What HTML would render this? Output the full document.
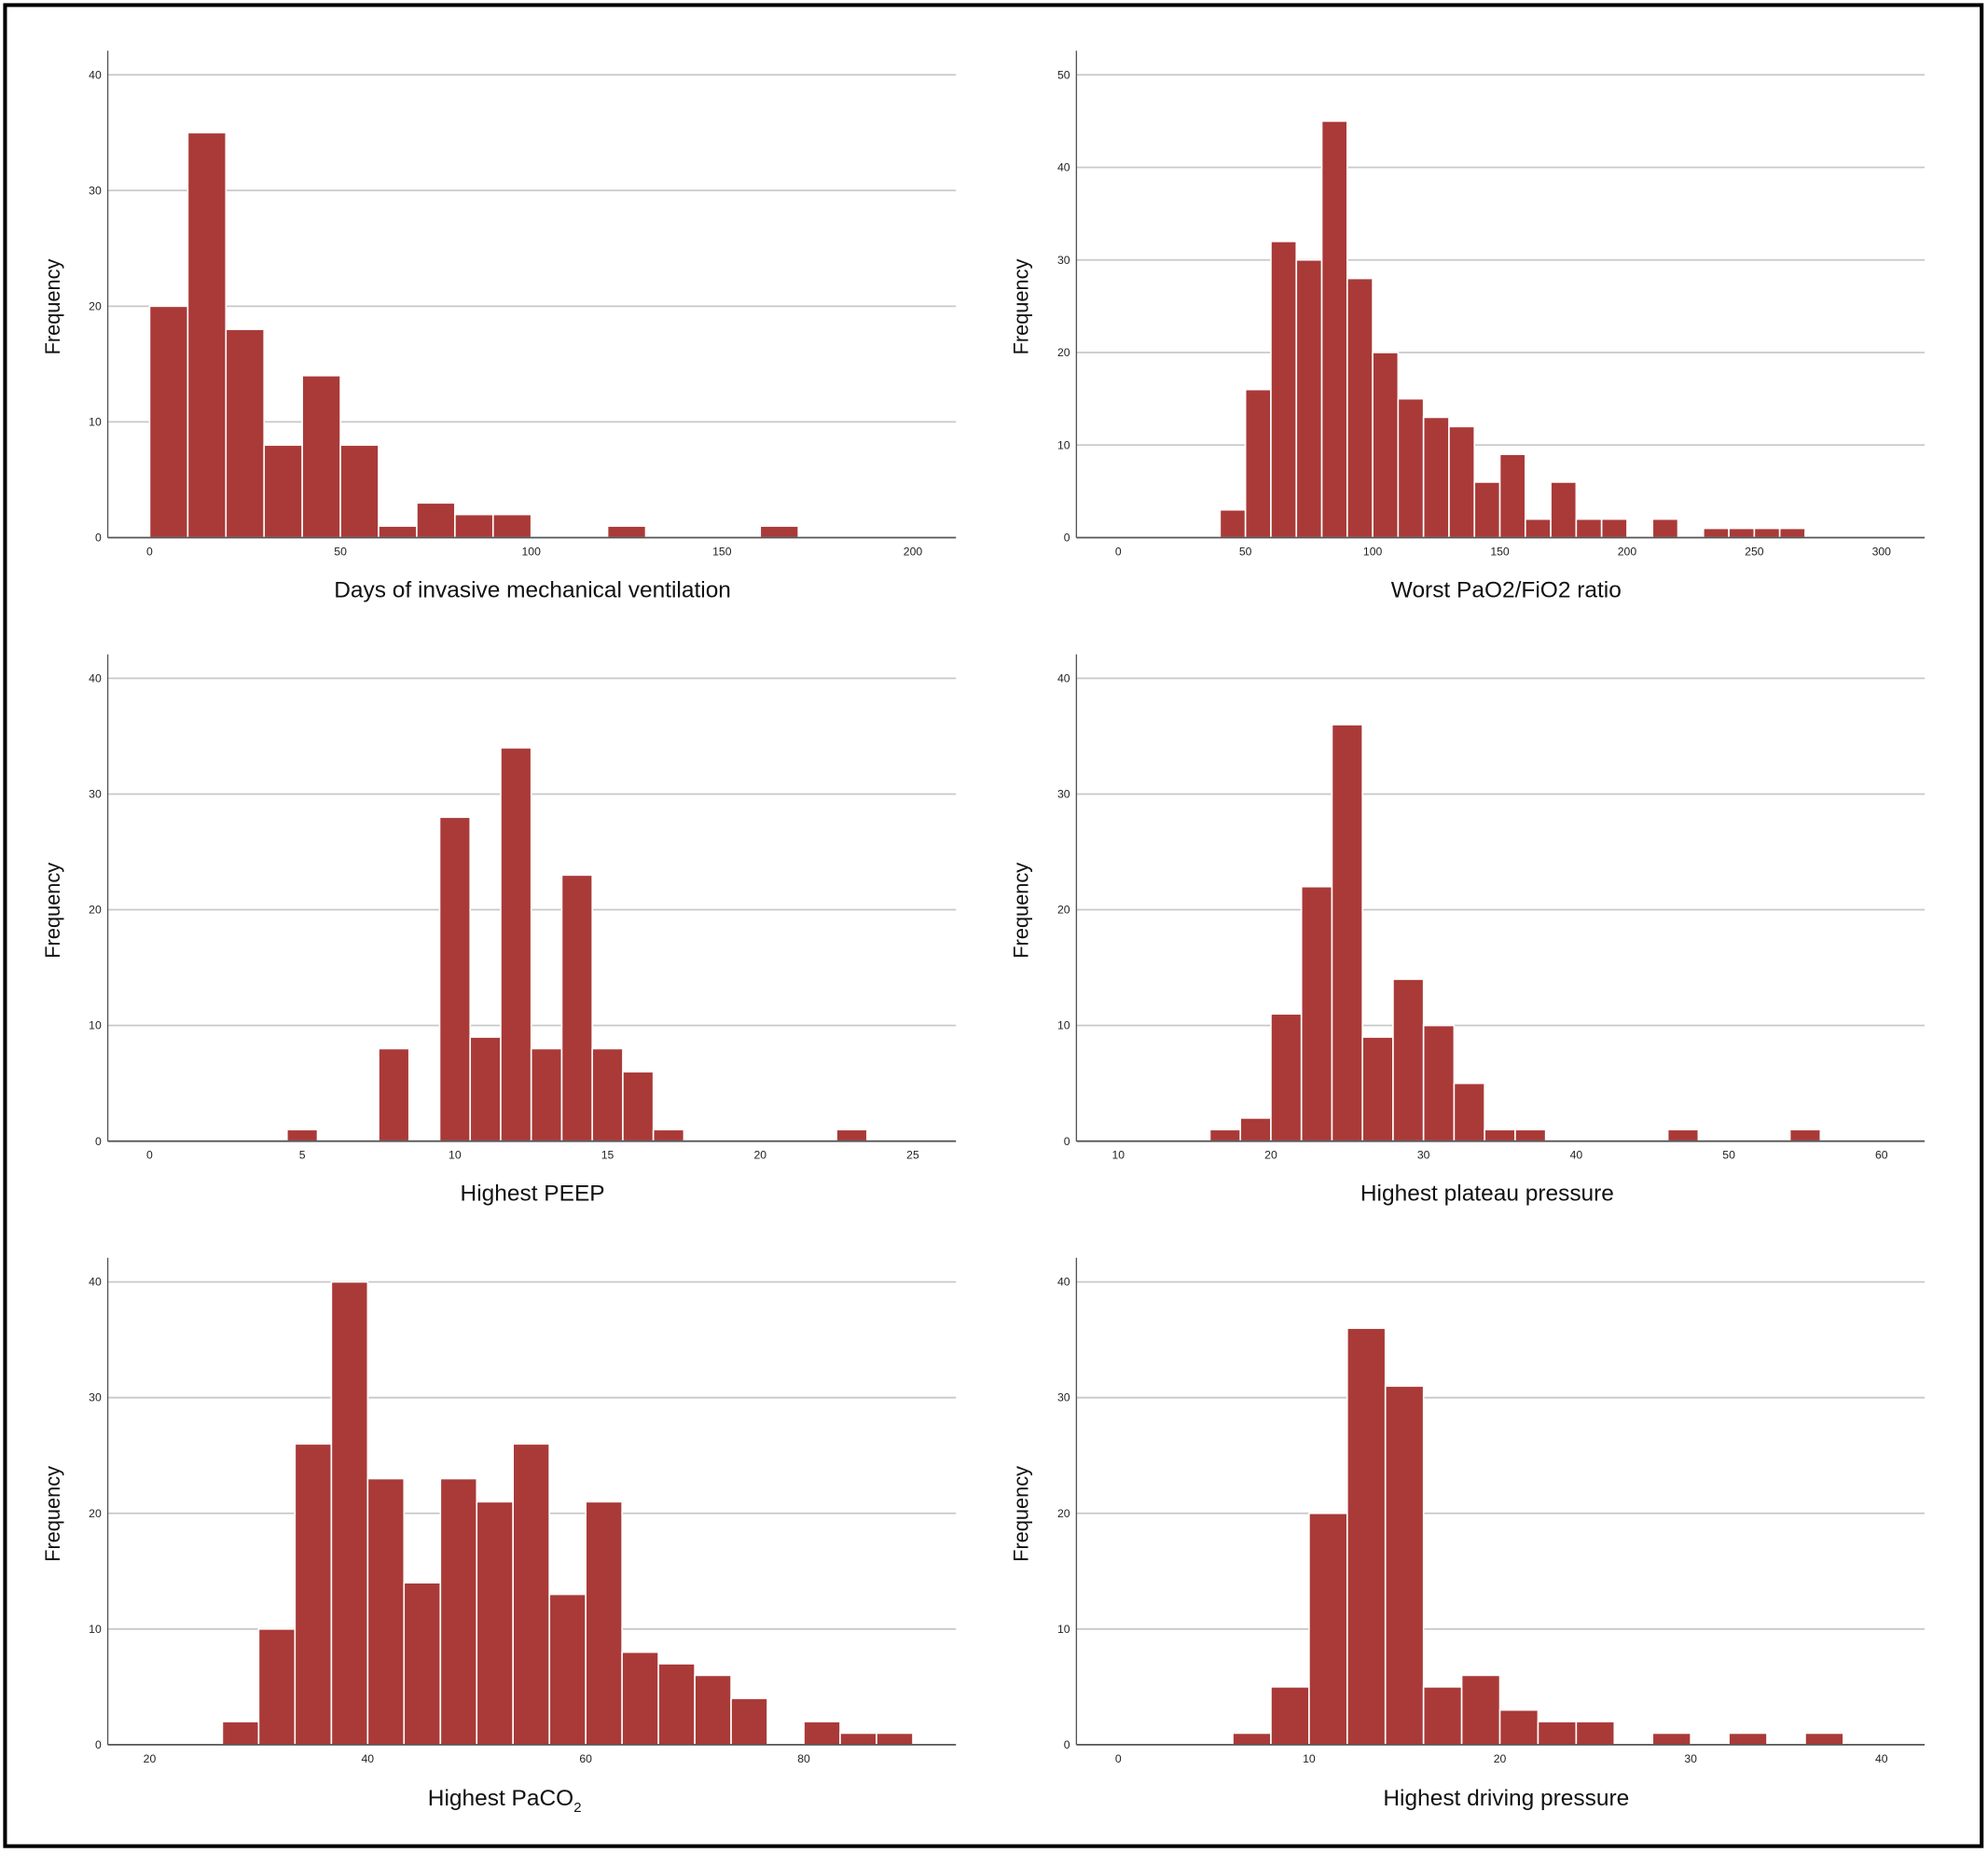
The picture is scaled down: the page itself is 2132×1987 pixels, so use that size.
<!DOCTYPE html>
<html><head><meta charset="utf-8">
<style>html,body{margin:0;padding:0;background:#fff}svg{display:block}</style>
</head><body>
<svg id="chart" width="2132" height="1987" viewBox="0 0 1568 1461.4" preserveAspectRatio="none" xmlns="http://www.w3.org/2000/svg">
<rect x="4" y="4" width="1559" height="1452" fill="#fff" stroke="#000" stroke-width="3"/>
</svg>
<script>
// Days of invasive mechanical ventilation
const daysBinStarts = [0,10,20,30,40,50,60,70,80,90,120,160];
const daysCounts = [20,35,18,8,14,8,1,3,2,2,1,1];
// Worst PaO2/FiO2 ratio
const pfBinStarts = [40,50,60,70,80,90,100,110,120,130,140,150,160,170,180,190,210,230,240,250,260];
const pfCounts = [3,16,32,30,45,28,20,15,13,12,6,9,2,6,2,2,2,1,1,1,1];
// Highest PEEP
const peepBinStarts = [4.5,7.5,9.5,10.5,11.5,12.5,13.5,14.5,15.5,16.5,22.5];
const peepCounts = [1,8,28,9,34,8,23,8,6,1,1];
// Highest plateau pressure
const platBinStarts = [16,18,20,22,24,26,28,30,32,34,36,46,54];
const platCounts = [1,2,11,22,36,9,14,10,5,1,1,1,1];
// Highest PaCO2
const pacoBinStarts = [26.67,30,33.33,36.67,40,43.33,46.67,50,53.33,56.67,60,63.33,66.67,70,73.33,80,83.33,86.67];
const pacoCounts = [2,10,26,40,23,14,23,21,26,13,21,8,7,6,4,2,1,1];
// Highest driving pressure
const dpBinStarts = [6,8,10,12,14,16,18,20,22,24,28,32,36];
const dpCounts = [1,5,20,36,31,5,6,3,2,2,1,1,1];

const daysXTicks=[0,50,100,150,200], pfXTicks=[0,50,100,150,200,250,300], peepXTicks=[0,5,10,15,20,25];
const platXTicks=[10,20,30,40,50,60], pacoXTicks=[20,40,60,80], dpXTicks=[0,10,20,30,40];
const y40Ticks=[0,10,20,30,40], y50Ticks=[0,10,20,30,40,50];

const NS="http://www.w3.org/2000/svg";
const svg=document.getElementById('chart');
function mk(tag,attrs,parent){const e=document.createElementNS(NS,tag);for(const k in attrs)e.setAttribute(k,attrs[k]);(parent||svg).appendChild(e);return e;}

const panels=[
 {id:'days',ax:85,xr:754,top:40,base:424,ymaxPx:59,ymax:40,yt:y40Ticks,x0:118,x1:720,d0:0,d1:200,xt:daysXTicks,starts:daysBinStarts,counts:daysCounts,bw:10,title:'Days of invasive mechanical ventilation',tx:420,ty:471},
 {id:'pf',ax:849,xr:1518,top:40,base:424,ymaxPx:59,ymax:50,yt:y50Ticks,x0:882,x1:1484,d0:0,d1:300,xt:pfXTicks,starts:pfBinStarts,counts:pfCounts,bw:10,title:'Worst PaO2/FiO2 ratio',tx:1188,ty:471},
 {id:'peep',ax:85,xr:754,top:516,base:900,ymaxPx:535,ymax:40,yt:y40Ticks,x0:118,x1:720,d0:0,d1:25,xt:peepXTicks,starts:peepBinStarts,counts:peepCounts,bw:1,title:'Highest PEEP',tx:420,ty:947},
 {id:'plateau',ax:849,xr:1518,top:516,base:900,ymaxPx:535,ymax:40,yt:y40Ticks,x0:882,x1:1484,d0:10,d1:60,xt:platXTicks,starts:platBinStarts,counts:platCounts,bw:2,title:'Highest plateau pressure',tx:1173,ty:947},
 {id:'paco2',ax:85,xr:754,top:992,base:1376,ymaxPx:1011,ymax:40,yt:y40Ticks,x0:118,x1:634,d0:20,d1:80,xt:pacoXTicks,starts:pacoBinStarts,counts:pacoCounts,bw:3.333,title:'Highest PaCO',sub:'2',tx:398,ty:1424},
 {id:'driving',ax:849,xr:1518,top:992,base:1376,ymaxPx:1011,ymax:40,yt:y40Ticks,x0:882,x1:1484,d0:0,d1:40,xt:dpXTicks,starts:dpBinStarts,counts:dpCounts,bw:2,title:'Highest driving pressure',tx:1188,ty:1424}
];

panels.forEach(p=>{
 const g=mk('g',{});
 
 
 const X=v=>p.x0+(v-p.d0)*(p.x1-p.x0)/(p.d1-p.d0);
 const Y=v=>p.base-v*(p.base-p.ymaxPx)/p.ymax;
 p.yt.forEach(t=>{
  if(t>0){const l=mk('line',{x1:p.ax,x2:p.xr,y1:Y(t),y2:Y(t),stroke:'#c8c8c8','stroke-width':1.3},g);
   
   }
  const tx=mk('text',{x:p.ax-5,y:Y(t)+3,'font-size':9,'text-anchor':'end','font-family':'Liberation Sans, sans-serif',fill:'#222'},g);
  tx.textContent=t;
  
  
 });
 p.xt.forEach(t=>{
  const tx=mk('text',{x:X(t),y:p.base+14,'font-size':9,'text-anchor':'middle','font-family':'Liberation Sans, sans-serif',fill:'#222'},g);
  tx.textContent=t;
  
  
 });
 p.starts.forEach((s,i)=>{
  const r=mk('rect',{x:X(s),y:Y(p.counts[i]),width:X(s+p.bw)-X(s),height:p.base-Y(p.counts[i]),fill:'#a93a38',stroke:'#fff','stroke-width':1.2},g);
  
  
 });
 const ya=mk('line',{x1:p.ax,x2:p.ax,y1:p.top,y2:p.base,stroke:'#555','stroke-width':1},g);
 
 
 const xa=mk('line',{x1:p.ax,x2:p.xr,y1:p.base,y2:p.base,stroke:'#555','stroke-width':1.3},g);
 
 
 const yl=mk('text',{x:0,y:0,transform:`translate(${p.ax-38},${(p.top+p.base)/2+10}) rotate(-90)`,'font-size':16,'text-anchor':'middle','font-family':'Liberation Sans, sans-serif',fill:'#111'},g);
 yl.textContent='Frequency';
 
 
 const tt=mk('text',{x:p.tx,y:p.ty,'font-size':18,'text-anchor':'middle','font-family':'Liberation Sans, sans-serif',fill:'#111'},g);
 tt.textContent=p.title;
 if(p.sub){const ts=mk('tspan',{'font-size':11,dy:5},tt);ts.textContent=p.sub;}
 
 
});
</script>
</body></html>
